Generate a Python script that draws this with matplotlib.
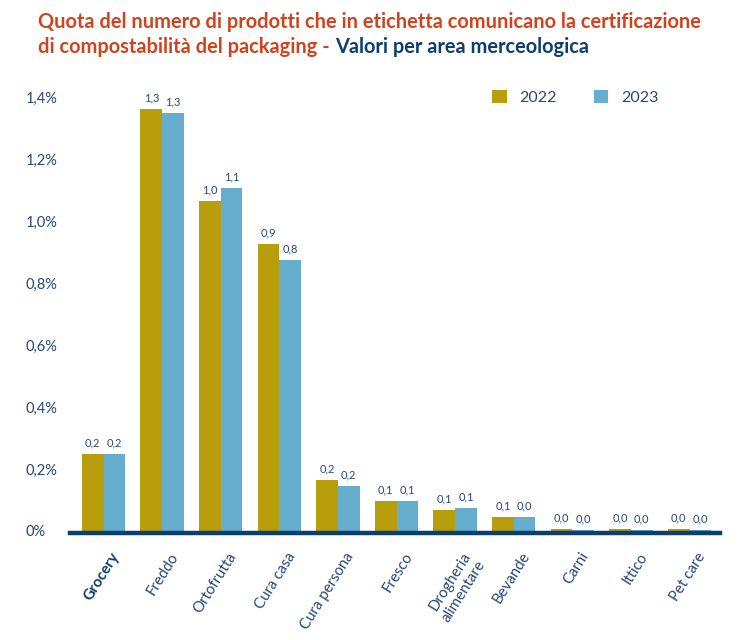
import numpy as np
import matplotlib
matplotlib.use("Agg")
import matplotlib.pyplot as plt

categories = ["Grocery", "Freddo", "Ortofrutta", "Cura casa", "Cura persona", "Fresco",
              "Drogheria\nalimentare", "Bevande", "Carni", "Ittico", "Pet care"]
val_2022 = [0.248, 1.362, 1.066, 0.926, 0.164, 0.097, 0.068, 0.045, 0.005, 0.005, 0.005]
val_2023 = [0.248, 1.349, 1.108, 0.875, 0.145, 0.097, 0.075, 0.045, 0.004, 0.004, 0.004]
lab_2022 = ["0,2", "1,3", "1,0", "0,9", "0,2", "0,1", "0,1", "0,1", "0,0", "0,0", "0,0"]
lab_2023 = ["0,2", "1,3", "1,1", "0,8", "0,2", "0,1", "0,1", "0,0", "0,0", "0,0", "0,0"]
yticks = [0, 0.2, 0.4, 0.6, 0.8, 1.0, 1.2, 1.4]
ytick_labels = ["0%", "0,2%", "0,4%", "0,6%", "0,8%", "1,0%", "1,2%", "1,4%"]

gold = "#b89e0a"
blue = "#66aece"
navy = "#0e3e6e"
txt = "#26477a"
red = "#d0431e"

plt.rcParams['font.family'] = ['Lato', 'DejaVu Sans']

W, H = 756, 640
fig = plt.figure(figsize=(W / 100, H / 100), dpi=100)
ax = fig.add_axes([70 / W, (H - 531) / H, 650 / W, 434 / H])

x = np.arange(len(categories))
bw = 0.37
b1 = ax.bar(x - bw / 2, val_2022, bw, color=gold, label="2022", zorder=2)
b2 = ax.bar(x + bw / 2, val_2023, bw, color=blue, label="2023", zorder=2)

for bars, labs in ((b1, lab_2022), (b2, lab_2023)):
    for r, s in zip(bars, labs):
        ax.annotate(s, (r.get_x() + r.get_width() / 2, r.get_height()),
                    xytext=(0, 4), textcoords="offset points", ha="center", va="bottom",
                    fontsize=8, color=txt)

ax.set_xlim(-0.572, 10.52)
ax.set_ylim(0, 1.4)
for s in ["top", "right", "left"]:
    ax.spines[s].set_visible(False)
ax.spines["bottom"].set_color(navy)
ax.spines["bottom"].set_linewidth(3.2)
ax.spines["bottom"].set_position(("outward", 1.5))
ax.spines["bottom"].set_zorder(3)

ax.set_yticks(yticks)
ax.set_yticklabels(ytick_labels, fontsize=10.5, color=txt, ha="left")
ax.tick_params(axis="y", length=0, pad=32)

ax.set_xticks(x + 0.12)
ax.set_xticklabels(categories, rotation=58, ha="right", va="top", rotation_mode="anchor",
                   fontsize=10.8, color=txt)
ax.tick_params(axis="x", length=0, pad=12)
ax.get_xticklabels()[0].set_fontweight("bold")
ax.get_xticklabels()[0].set_color(navy)

leg = ax.legend(loc="upper left", bbox_to_anchor=((478 - 70) / 650, 1.05), ncol=2,
                frameon=False, handlelength=0.9, handleheight=0.9, handletextpad=0.8,
                columnspacing=2.3, fontsize=11.5)
for t in leg.get_texts():
    t.set_color(txt)

tfont = dict(fontsize=14.4, fontweight="bold")
t1 = fig.text(38 / W, 1 - 22 / H, "Quota del numero di prodotti che in etichetta comunicano la certificazione",
              color=red, va="center", **tfont)
t2 = fig.text(38 / W, 1 - 47 / H, "di compostabilità del packaging -",
              color=red, va="center", **tfont)
ax.annotate("Valori per area merceologica", xy=(1, 0), xycoords=t2, xytext=(4, 0),
            textcoords="offset points", va="bottom", ha="left", color=navy,
            annotation_clip=False, **tfont)

fig.savefig("out.png", dpi=100)
